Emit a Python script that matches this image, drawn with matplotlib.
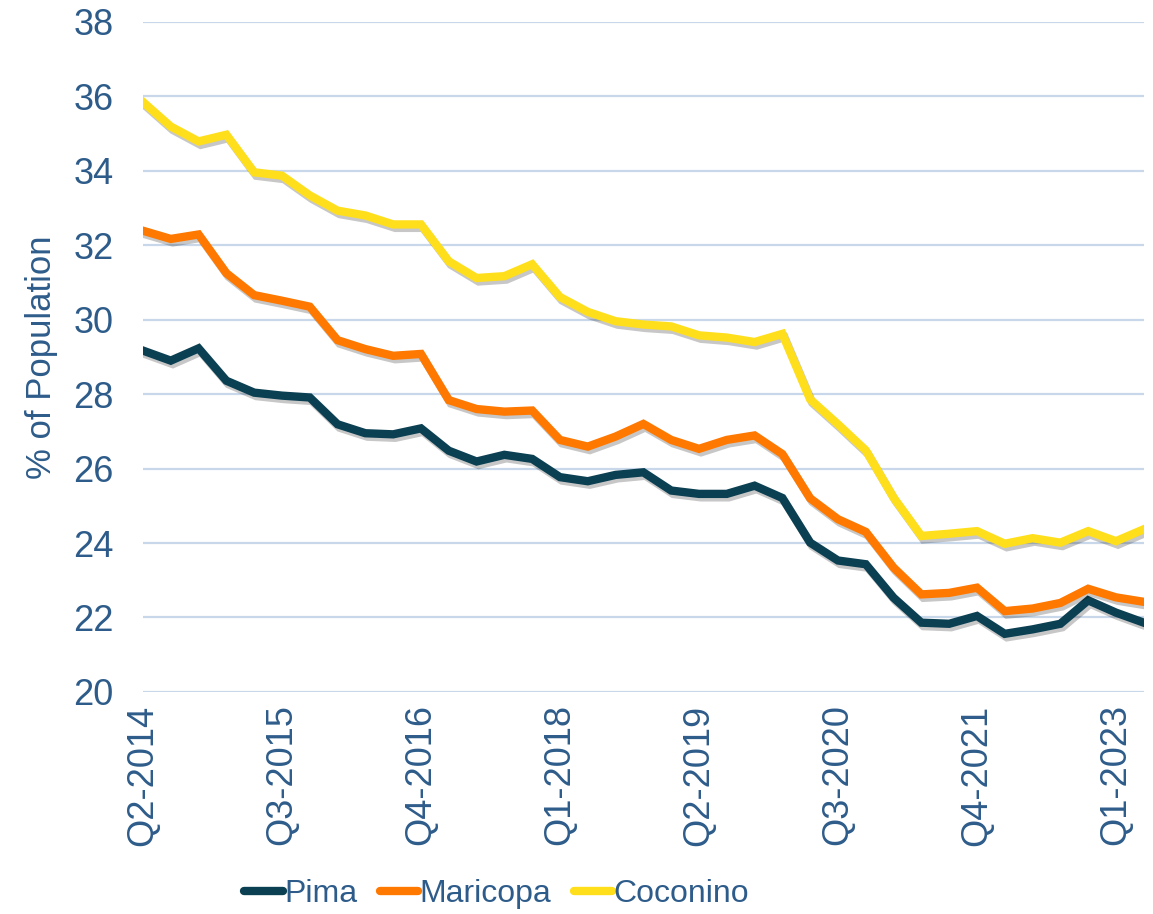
import matplotlib
matplotlib.use("Agg")
import matplotlib.pyplot as plt
import matplotlib.patheffects as pe

plt.rcParams['font.family'] = ['Liberation Sans', 'DejaVu Sans']

# quarters Q2-2014 .. Q2-2023
quarters = []
for year in range(2014, 2024):
    for q in range(1, 5):
        quarters.append(f"Q{q}-{year}")
quarters = quarters[1:38]

pima = [29.17, 28.90, 29.23, 28.36, 28.04, 27.96, 27.91, 27.19, 26.95, 26.92,
        27.08, 26.48, 26.19, 26.37, 26.26, 25.77, 25.66, 25.83, 25.90, 25.41,
        25.32, 25.32, 25.54, 25.21, 24.01, 23.53, 23.43, 22.53, 21.86, 21.83,
        22.04, 21.56, 21.68, 21.83, 22.46, 22.13, 21.86]
maricopa = [32.39, 32.17, 32.29, 31.25, 30.66, 30.51, 30.35, 29.45, 29.21, 29.03,
            29.08, 27.84, 27.60, 27.53, 27.56, 26.77, 26.59, 26.86, 27.20, 26.77,
            26.53, 26.77, 26.89, 26.39, 25.20, 24.64, 24.30, 23.34, 22.62, 22.66,
            22.80, 22.17, 22.24, 22.39, 22.77, 22.54, 22.42]
coconino = [35.85, 35.19, 34.79, 34.97, 33.96, 33.87, 33.34, 32.93, 32.80, 32.56,
            32.56, 31.57, 31.12, 31.17, 31.49, 30.61, 30.21, 29.96, 29.87, 29.82,
            29.58, 29.52, 29.40, 29.62, 27.86, 27.19, 26.49, 25.22, 24.19, 24.25,
            24.32, 23.98, 24.13, 24.01, 24.32, 24.05, 24.37]

series = [("Pima", pima, "#0B3F52"),
          ("Maricopa", maricopa, "#FF7800"),
          ("Coconino", coconino, "#FFDF1B")]

text_color = "#2E5C8A"
grid_color = "#C8D8EA"

fig = plt.figure(figsize=(11.53, 9.14), dpi=100)
ax = fig.add_axes([0.124, 0.243, 0.868, 0.733])

x = list(range(len(quarters)))
shadow = [pe.SimpleLineShadow(offset=(1.5, -2.5), alpha=0.22, shadow_color='black'), pe.Normal()]
for name, vals, col in series:
    ax.plot(x, vals, color=col, lw=6, label=name, path_effects=shadow,
            solid_joinstyle='miter', zorder=3)

ax.set_xlim(0, len(quarters) - 1)
ax.set_ylim(20, 38)
ax.set_yticks(range(20, 39, 2))
ax.set_xticks(x[::5])
ax.set_xticklabels(quarters[::5], rotation=90)
ax.grid(axis='y', color=grid_color, lw=1.6)
ax.set_axisbelow(True)
for s in ax.spines.values():
    s.set_visible(False)
ax.tick_params(axis='y', length=0, pad=21, labelsize=26, labelcolor=text_color)
ax.tick_params(axis='x', length=0, pad=9, labelsize=26, labelcolor=text_color)
ax.set_ylabel("% of Population", fontsize=25, color=text_color)
ax.yaxis.set_label_coords(-0.085, 0.5)

handles = [plt.Line2D([], [], color=c, lw=6, solid_capstyle='round') for _, _, c in series]
fig.legend(handles, [n for n, _, _ in series], loc='center', bbox_to_anchor=(0.431, 0.022),
           ncol=3, frameon=False, fontsize=23, handlelength=1.2, handletextpad=0.05,
           columnspacing=0.7, labelcolor=text_color)

fig.savefig("out.png", dpi=100)
